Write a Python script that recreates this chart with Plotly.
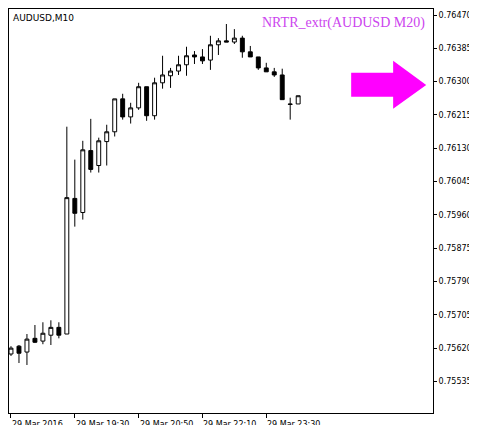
import plotly.graph_objects as go

# 10-minute bars, AUDUSD 29 Mar 2016 starting 18:10
bar_idx = list(range(37))
opens = [0.75605, 0.75625, 0.75610, 0.75645, 0.75638, 0.75653, 0.75673, 0.75656, 0.76002, 0.75966,
         0.76124, 0.76086, 0.76147, 0.76172, 0.76256, 0.76210, 0.76233, 0.76287, 0.76213, 0.76297,
         0.76315, 0.76327, 0.76343, 0.76368, 0.76363, 0.76355, 0.76394, 0.76404, 0.76401, 0.76411,
         0.76376, 0.76363, 0.76335, 0.76325, 0.76317, 0.76243, 0.76243]
highs = [0.75625, 0.75628, 0.75656, 0.75679, 0.75686, 0.75691, 0.75686, 0.76185, 0.76101, 0.76149,
         0.76205, 0.76157, 0.76190, 0.76256, 0.76269, 0.76246, 0.76297, 0.76287, 0.76310, 0.76366,
         0.76335, 0.76366, 0.76389, 0.76378, 0.76383, 0.76417, 0.76411, 0.76447, 0.76434, 0.76417,
         0.76391, 0.76363, 0.76348, 0.76335, 0.76333, 0.76259, 0.76264]
lows = [0.75600, 0.75582, 0.75577, 0.75633, 0.75630, 0.75628, 0.75645, 0.75656, 0.75930, 0.75948,
        0.76068, 0.76068, 0.76086, 0.76160, 0.76203, 0.76193, 0.76228, 0.76200, 0.76203, 0.76282,
        0.76284, 0.76317, 0.76315, 0.76345, 0.76345, 0.76330, 0.76368, 0.76401, 0.76396, 0.76361,
        0.76363, 0.76330, 0.76325, 0.76312, 0.76254, 0.76203, 0.76243]
closes = [0.75620, 0.75607, 0.75643, 0.75635, 0.75658, 0.75673, 0.75653, 0.76004, 0.75964, 0.76126,
          0.76076, 0.76149, 0.76172, 0.76256, 0.76210, 0.76233, 0.76287, 0.76213, 0.76297, 0.76317,
          0.76327, 0.76343, 0.76366, 0.76363, 0.76353, 0.76394, 0.76404, 0.76401, 0.76411, 0.76376,
          0.76363, 0.76335, 0.76325, 0.76317, 0.76254, 0.76242, 0.76264]

price_ticks = [0.76470, 0.76385, 0.76300, 0.76215, 0.76130, 0.76045, 0.75960,
               0.75875, 0.75790, 0.75705, 0.75620, 0.75535]
time_tick_idx = [0, 8, 16, 24, 32]
time_tick_text = ["29 Mar 2016", "29 Mar 19:30", "29 Mar 20:50", "29 Mar 22:10", "29 Mar 23:30"]

fig = go.Figure()
fig.add_trace(go.Candlestick(
    x=bar_idx, open=opens, high=highs, low=lows, close=closes,
    increasing=dict(line=dict(color="black", width=1), fillcolor="white"),
    decreasing=dict(line=dict(color="black", width=1), fillcolor="black"),
    whiskerwidth=0, showlegend=False, hoverinfo="skip"))

fig.update_layout(
    width=477, height=425,
    margin=dict(l=1, r=52, t=1, b=20),
    paper_bgcolor="white", plot_bgcolor="white",
    font=dict(family="DejaVu Sans", size=8, color="black"),
    xaxis=dict(range=[-0.25, 52.9], rangeslider=dict(visible=False), automargin=False,
               tickvals=time_tick_idx, showticklabels=False,
               showgrid=False, zeroline=False, showline=True, linecolor="black", mirror=True,
               ticks="outside", ticklen=4, tickcolor="black"),
    yaxis=dict(range=[0.754545, 0.764853], side="right", automargin=False,
               tickvals=price_ticks, ticktext=[f"{v:.5f}" for v in price_ticks],
               showgrid=False, zeroline=False, showline=True, linecolor="black", mirror=True,
               ticks="outside", ticklen=3, tickcolor="black"),
)

# time labels sit to the right of their tick, like the terminal does
for i, t in zip(time_tick_idx, time_tick_text):
    fig.add_annotation(text=t, x=i, xref="x", yref="paper", y=-0.012,
                       xanchor="left", yanchor="top", showarrow=False, xshift=-1,
                       font=dict(family="DejaVu Sans", size=8, color="black"))

fig.add_annotation(text="AUDUSD,M10", xref="paper", yref="paper", x=0.005, y=0.995,
                   xanchor="left", yanchor="top", showarrow=False,
                   font=dict(family="DejaVu Sans", size=9, color="black"))
fig.add_annotation(text="NRTR_extr(AUDUSD M20)", xref="paper", yref="paper", x=0.985, y=0.99,
                   xanchor="right", yanchor="top", showarrow=False,
                   font=dict(family="Liberation Serif", size=14, color="#cc44ee"))

# magenta arrow pointing right
fig.add_shape(type="path", xref="paper", yref="paper",
              path="M 0.807,0.842 L 0.906,0.842 L 0.906,0.872 L 0.984,0.812 "
                   "L 0.906,0.753 L 0.906,0.783 L 0.807,0.783 Z",
              fillcolor="#ff00ff", line=dict(width=0))

fig.write_html("out.html")
